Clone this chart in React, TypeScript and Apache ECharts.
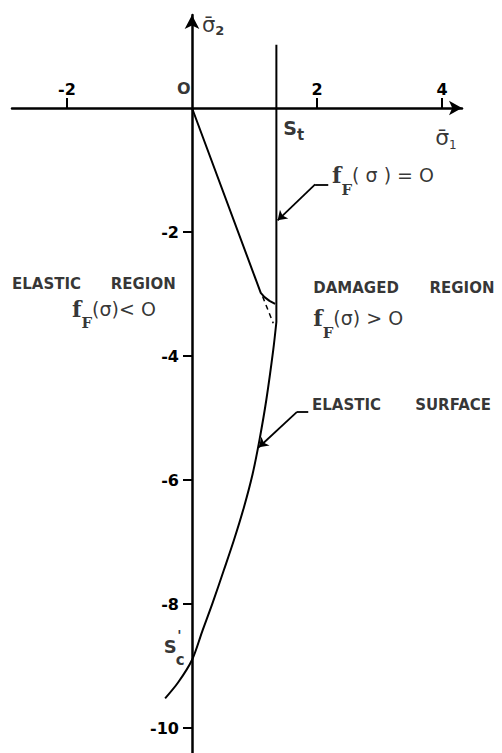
import React, { useEffect, useRef } from "react";
import * as echarts from "echarts";

// Axis ticks
const X_TICKS = [-2, 2, 4];
const Y_TICKS = [-2, -4, -6, -8, -10];

// Axis ranges
const X_MIN = -2.88;
const X_MAX = 4.32;
const Y_MIN = -10.4;
const Y_MAX = 1.5;

// Tensile cut-off S_t (vertical line)
const S_T = 1.35;
const cutoffLine: number[][] = [
  [S_T, 1.02],
  [S_T, -3.45],
];

// Straight yield line from origin with its bend into the cut-off
const yieldLine: number[][] = [
  [0, 0],
  [1.1, -2.98],
  [1.16, -3.05],
  [1.24, -3.11],
  [1.33, -3.16],
];

// Dashed continuation of the straight line
const dashedBranch: number[][] = [
  [1.13, -3.04],
  [1.3, -3.47],
];

// Elastic surface curve
const elasticSurface: number[][] = [
  [S_T, -3.45],
  [1.3, -3.9],
  [1.19, -4.7],
  [1.08, -5.35],
  [0.97, -5.9],
  [0.83, -6.44],
  [0.67, -6.97],
  [0.51, -7.45],
  [0.33, -7.98],
  [0.16, -8.45],
  [0.0, -8.9],
  [-0.22, -9.26],
  [-0.43, -9.52],
];

// Leader lines (horizontal stubs and arrowed diagonals)
const leaderStubs: number[][][] = [
  [[2.18, -1.23], [1.97, -1.23]],
  [[1.86, -4.9], [1.68, -4.9]],
];
const leaderArrows: number[][][] = [
  [[1.97, -1.23], [1.37, -1.81]],
  [[1.68, -4.9], [1.07, -5.47]],
];

const SANS = "DejaVu Sans";
const SERIF = "DejaVu Serif";
const NB = { textBorderWidth: 0, textShadowBlur: 0 };

const mathRich = {
  f: { fontFamily: SERIF, fontWeight: "bold", fontSize: 22, lineHeight: 44, color: "#000", ...NB },
  sub: { fontFamily: SERIF, fontWeight: "bold", fontSize: 15, lineHeight: 15, verticalAlign: "bottom", color: "#000", ...NB },
  s: { fontFamily: SANS, fontSize: 19, lineHeight: 44, color: "#000", ...NB },
};

const capStyle = { fontFamily: SANS, fontWeight: "bold", fontSize: 15, color: "#000", ...NB };

// annotation anchors
const annotations: any[] = [
  { value: [-0.13, 0.32], label: { formatter: "O", position: "inside", ...capStyle, fontSize: 16 } },
  { value: [1.46, -0.32], label: { formatter: "{a|S}{b|t}", position: "right", distance: 0, rich: {
    a: { fontFamily: SANS, fontWeight: "bold", fontSize: 19, lineHeight: 30, color: "#000", ...NB },
    b: { fontFamily: SANS, fontWeight: "bold", fontSize: 15, lineHeight: 15, verticalAlign: "bottom", color: "#000", ...NB },
  } } },
  { value: [0.16, 1.34], label: { formatter: "{a|σ̄}{b|2}", position: "right", distance: 0, rich: {
    a: { fontFamily: SANS, fontSize: 21, lineHeight: 24, color: "#000", ...NB },
    b: { fontFamily: SANS, fontWeight: "bold", fontSize: 13, lineHeight: 13, verticalAlign: "bottom", color: "#000", ...NB },
  } } },
  { value: [3.89, -0.47], label: { formatter: "{a|σ̄}{b|1}", position: "right", distance: 0, rich: {
    a: { fontFamily: SANS, fontSize: 22, lineHeight: 28, color: "#000", ...NB },
    b: { fontFamily: SANS, fontSize: 12, lineHeight: 12, verticalAlign: "bottom", color: "#000", ...NB },
  } } },
  { value: [2.24, -1.08], label: { formatter: "{f|f}{sub|F}{s|( σ ) = O}", position: "right", distance: 0, rich: mathRich } },
  { value: [-2.88, -2.84], label: { formatter: "ELASTIC", position: "right", distance: 0, ...capStyle } },
  { value: [-1.3, -2.84], label: { formatter: "REGION", position: "right", distance: 0, ...capStyle } },
  { value: [-1.92, -3.24], label: { formatter: "{f|f}{sub|F}{s|(σ)< O}", position: "right", distance: 0, rich: mathRich } },
  { value: [1.94, -2.9], label: { formatter: "DAMAGED", position: "right", distance: 0, ...capStyle } },
  { value: [3.8, -2.9], label: { formatter: "REGION", position: "right", distance: 0, ...capStyle } },
  { value: [1.94, -3.39], label: { formatter: "{f|f}{sub|F}{s|(σ) > O}", position: "right", distance: 0, rich: mathRich } },
  { value: [1.92, -4.79], label: { formatter: "ELASTIC", position: "right", distance: 0, ...capStyle } },
  { value: [3.57, -4.79], label: { formatter: "SURFACE", position: "right", distance: 0, ...capStyle } },
  { value: [-0.35, -8.68], label: { formatter: "S", position: "inside", ...capStyle, fontSize: 18 } },
  { value: [-0.19, -8.9], label: { formatter: "c", position: "inside", ...capStyle, fontSize: 15 } },
  { value: [-0.2, -8.5], label: { formatter: "'", position: "inside", ...capStyle, fontSize: 14 } },
];

export default function App() {
  const ref = useRef<HTMLDivElement>(null);
  useEffect(() => {
    if (!ref.current) return;
    const chart = echarts.init(ref.current, undefined, { renderer: "svg" });
    const black = "#000";
    const gridLeft = 12;
    const gridTop = 15;
    const gridW = 450;
    const gridH = 738;
    // place axes through the origin
    const xAxisOffset = -((Y_MAX - 0) / (Y_MAX - Y_MIN)) * gridH;
    const yAxisOffset = -((0 - X_MIN) / (X_MAX - X_MIN)) * gridW;
    chart.setOption({
      animation: false,
      backgroundColor: "#fff",
      grid: { left: gridLeft, top: gridTop, width: gridW, height: gridH, containLabel: false, outerBoundsMode: "none" },
      xAxis: {
        type: "value",
        position: "top",
        offset: xAxisOffset,
        min: X_MIN,
        max: X_MAX,
        splitLine: { show: false },
        axisLine: {
          onZero: false,
          symbol: ["none", "arrow"],
          symbolSize: [11, 13],
          lineStyle: { color: black, width: 2.5 },
        },
        axisTick: { show: true, length: 10, customValues: X_TICKS, lineStyle: { color: black, width: 2 } },
        axisLabel: {
          margin: 11,
          customValues: X_TICKS,
          color: black,
          fontFamily: SANS,
          fontWeight: "bold",
          fontSize: 16,
        },
      },
      yAxis: {
        type: "value",
        position: "left",
        offset: yAxisOffset,
        min: Y_MIN,
        max: Y_MAX,
        splitLine: { show: false },
        axisLine: {
          onZero: false,
          symbol: ["none", "arrow"],
          symbolSize: [11, 14],
          lineStyle: { color: black, width: 2.5 },
        },
        axisTick: { show: true, length: 9, customValues: Y_TICKS, lineStyle: { color: black, width: 2 } },
        axisLabel: {
          margin: 13,
          customValues: Y_TICKS,
          color: black,
          fontFamily: SANS,
          fontWeight: "bold",
          fontSize: 16,
        },
      },
      series: [
        {
          type: "line",
          data: cutoffLine,
          showSymbol: false,
          lineStyle: { color: black, width: 2 },
        },
        {
          type: "line",
          data: yieldLine,
          showSymbol: false,
          lineStyle: { color: black, width: 2 },
        },
        {
          type: "line",
          data: dashedBranch,
          showSymbol: false,
          lineStyle: { color: black, width: 1.5, type: [5, 4] },
        },
        {
          type: "line",
          data: elasticSurface,
          smooth: 0.3,
          showSymbol: false,
          lineStyle: { color: black, width: 2 },
        },
        {
          type: "lines",
          coordinateSystem: "cartesian2d",
          symbol: ["none", "none"],
          data: leaderStubs.map((c) => ({ coords: c })),
          lineStyle: { color: black, width: 1.8, opacity: 1 },
        },
        {
          type: "lines",
          coordinateSystem: "cartesian2d",
          symbol: ["none", "arrow"],
          symbolSize: 9,
          data: leaderArrows.map((c) => ({ coords: c })),
          lineStyle: { color: black, width: 1.8, opacity: 1 },
        },
        {
          type: "scatter",
          symbolSize: 0,
          silent: true,
          data: annotations.map((a) => ({ value: a.value, label: { show: true, ...a.label } })),
        },
      ],
    });
    return () => chart.dispose();
  }, []);
  return (
    <div
      ref={ref}
      style={{ position: "fixed", left: 0, top: 0, width: 502, height: 753, background: "#fff" }}
    />
  );
}
